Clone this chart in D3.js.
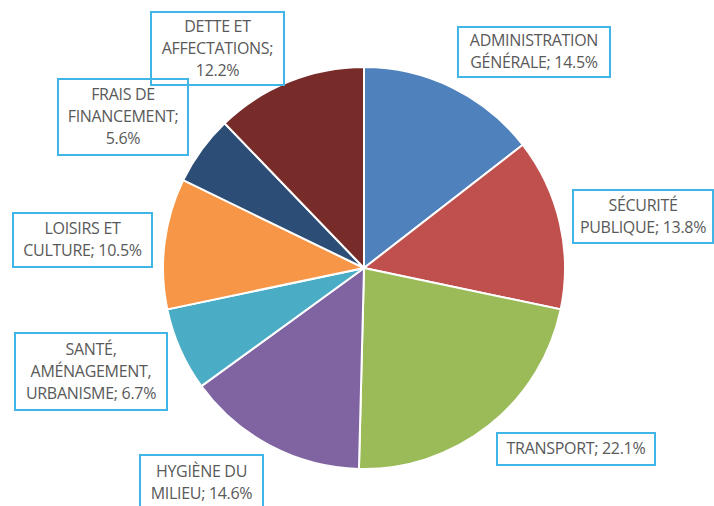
<!DOCTYPE html>
<html>
<head>
<meta charset="utf-8">
<script src="https://cdn.jsdelivr.net/npm/d3@7"></script>
<style>
  body { margin: 0; background: #ffffff; }
  svg { display: block; }
</style>
</head>
<body>
<svg id="chart"></svg>
<script>
// Chart data (clockwise from 12 o'clock)
const categories = [
  "ADMINISTRATION GÉNÉRALE",
  "SÉCURITÉ PUBLIQUE",
  "TRANSPORT",
  "HYGIÈNE DU MILIEU",
  "SANTÉ, AMÉNAGEMENT, URBANISME",
  "LOISIRS ET CULTURE",
  "FRAIS DE FINANCEMENT",
  "DETTE ET AFFECTATIONS"
];
const values = [14.5, 13.8, 22.1, 14.6, 6.7, 10.5, 5.6, 12.2];
const colors = ["#4f81bd", "#c0504d", "#9bbb59", "#8064a2", "#4bacc6", "#f79646", "#2c4d75", "#772c2a"];

// Label text lines as shown in the picture
const labelLines = [
  ["ADMINISTRATION", "GÉNÉRALE; 14.5%"],
  ["SÉCURITÉ", "PUBLIQUE; 13.8%"],
  ["TRANSPORT; 22.1%"],
  ["HYGIÈNE DU", "MILIEU; 14.6%"],
  ["SANTÉ,", "AMÉNAGEMENT,", "URBANISME; 6.7%"],
  ["LOISIRS ET", "CULTURE; 10.5%"],
  ["FRAIS DE", "FINANCEMENT;", "5.6%"],
  ["DETTE ET", "AFFECTATIONS;", "12.2%"]
];
// Label box placement [left, top, width, height]
const labelBoxes = [
  [458, 27, 152, 50],
  [573, 190, 140, 53],
  [497, 433, 158, 32],
  [140, 455, 123, 55],
  [15, 333, 152, 77],
  [13, 213, 139, 54],
  [58, 79, 130, 76],
  [151, 12, 133, 73]
];

const width = 714, height = 506;
const cx = 364, cy = 268, radius = 201;

const svg = d3.select("#chart")
  .attr("width", width)
  .attr("height", height);

const pie = d3.pie().sort(null).value(d => d);
const arc = d3.arc().innerRadius(0).outerRadius(radius);

// Pie slices
svg.append("g")
  .attr("transform", `translate(${cx},${cy})`)
  .selectAll("path")
  .data(pie(values))
  .enter()
  .append("path")
  .attr("d", arc)
  .style("fill", (d, i) => colors[i])
  .style("stroke", "#ffffff")
  .style("stroke-width", 2);

// Label boxes
const labels = svg.append("g")
  .selectAll("g")
  .data(categories)
  .enter()
  .append("g")
  .attr("transform", (d, i) => `translate(${labelBoxes[i][0]},${labelBoxes[i][1]})`);

labels.append("rect")
  .attr("width", (d, i) => labelBoxes[i][2])
  .attr("height", (d, i) => labelBoxes[i][3])
  .style("fill", "none")
  .style("stroke", "#41b6e6")
  .style("stroke-width", 2);

const lineH = 22;
labels.append("text")
  .attr("text-anchor", "middle")
  .style("font-family", "'Open Sans', sans-serif")
  .style("font-size", "16px")
  .style("letter-spacing", "-0.3px")
  .style("fill", "#595959")
  .each(function (d, i) {
    const [, , w, h] = labelBoxes[i];
    const lines = labelLines[i];
    const top = h / 2 - (lines.length * lineH) / 2 + lineH * 0.74;
    d3.select(this)
      .selectAll("tspan")
      .data(lines)
      .enter()
      .append("tspan")
      .attr("x", w / 2)
      .attr("y", (t, j) => top + j * lineH)
      .text(t => t);
  });
</script>
</body>
</html>
